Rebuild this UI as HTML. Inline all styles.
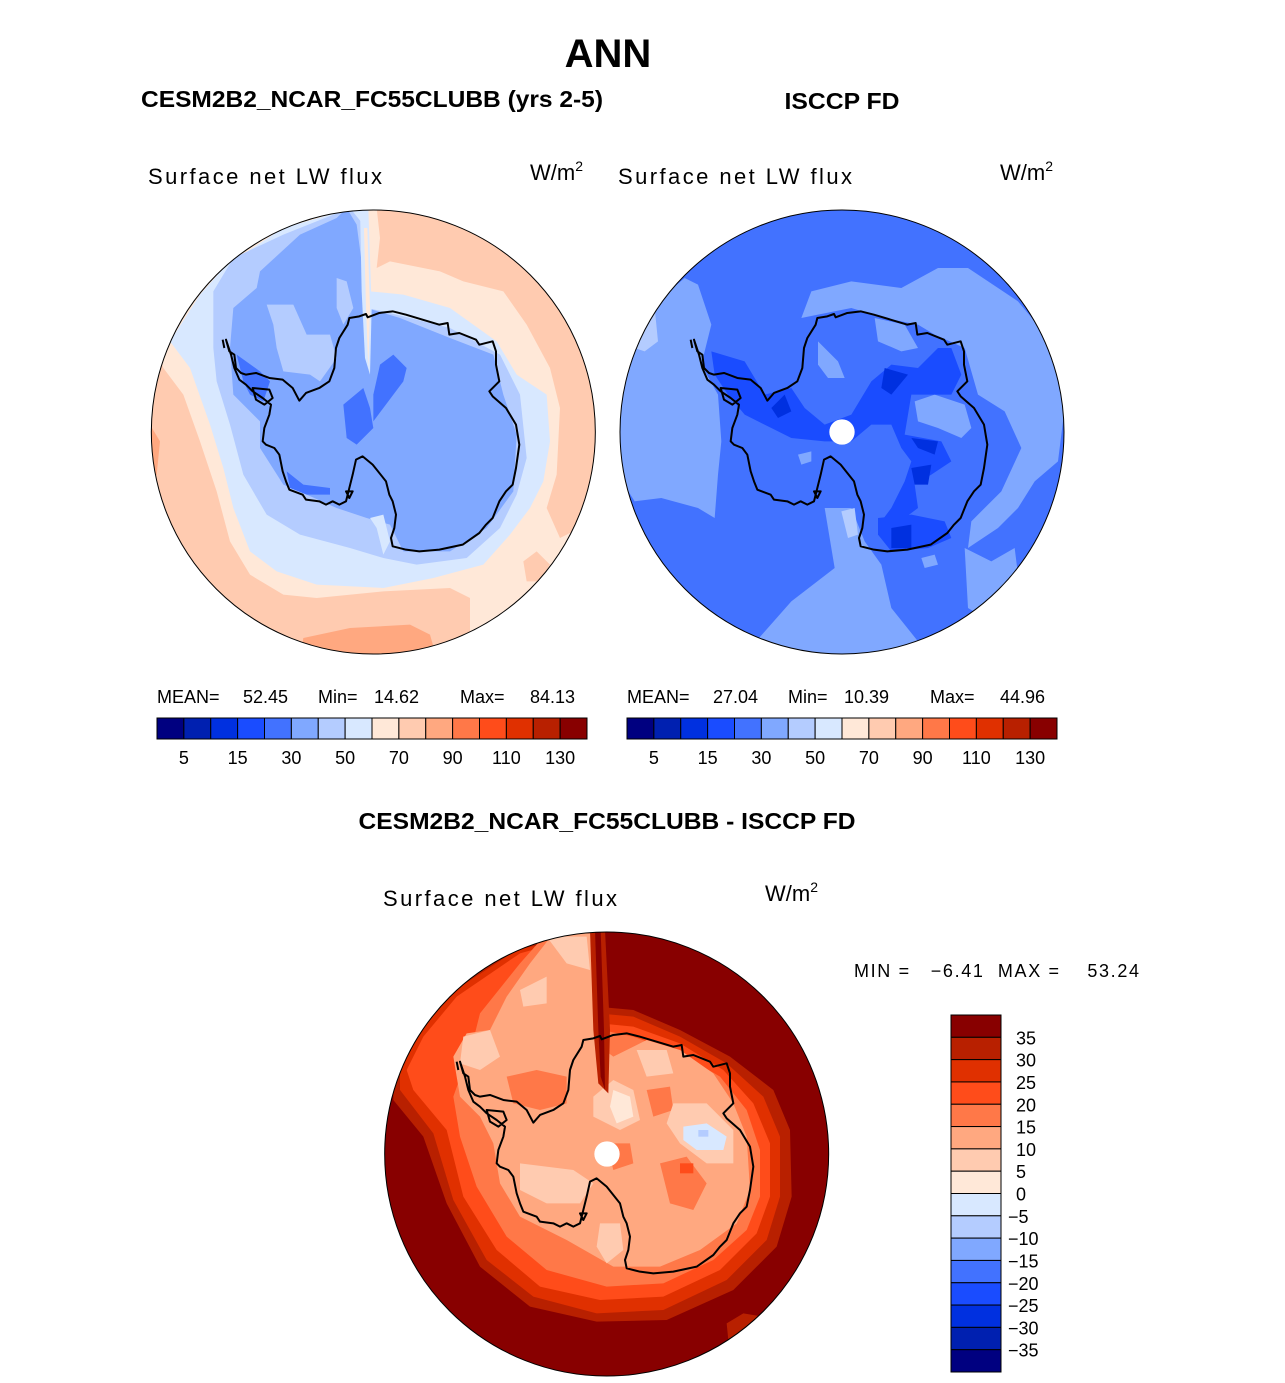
<!DOCTYPE html>
<html><head><meta charset="utf-8"><style>
html,body{margin:0;padding:0;background:#fff;}
svg{display:block;font-family:"Liberation Sans",sans-serif;}
</style></head><body>
<svg id="fig" width="1285" height="1383" viewBox="0 0 1285 1383" xmlns="http://www.w3.org/2000/svg">
<defs>
<clipPath id="c1"><circle cx="670" cy="672" r="666"/></clipPath>
<clipPath id="c2"><circle cx="672" cy="672" r="666"/></clipPath>
<clipPath id="c3"><circle cx="680" cy="672" r="666"/></clipPath>
</defs>
<text x="608" y="67" text-anchor="middle" font-size="40" font-weight="bold">ANN</text>
<text x="141" y="107" font-size="23" font-weight="bold" textLength="462" lengthAdjust="spacingAndGlyphs">CESM2B2_NCAR_FC55CLUBB (yrs 2-5)</text>
<text x="842" y="109" text-anchor="middle" font-size="23" font-weight="bold" textLength="115" lengthAdjust="spacingAndGlyphs">ISCCP FD</text>
<text x="148" y="184" font-size="22" textLength="234">Surface net LW flux</text>
<text x="530" y="180" font-size="22">W/m<tspan font-size="14" dy="-9">2</tspan></text>
<text x="618" y="184" font-size="22" textLength="234">Surface net LW flux</text>
<text x="1000" y="180" font-size="22">W/m<tspan font-size="14" dy="-9">2</tspan></text>
<text x="607" y="829" text-anchor="middle" font-size="23" font-weight="bold" textLength="497" lengthAdjust="spacingAndGlyphs">CESM2B2_NCAR_FC55CLUBB - ISCCP FD</text>
<text x="383" y="906" font-size="22" textLength="234">Surface net LW flux</text>
<text x="765" y="901" font-size="22">W/m<tspan font-size="14" dy="-9">2</tspan></text>
<text x="854" y="977" font-size="18" textLength="285" xml:space="preserve">MIN =   −6.41  MAX =    53.24</text>

<!-- plot 1 -->
<g transform="translate(150,208) scale(0.33333)">
<g clip-path="url(#c1)">
<rect x="0" y="0" width="1350" height="1350" fill="#ffcbb0"/>
<polygon fill="#ffa880" points="450,1350 460,1290 600,1260 780,1250 840,1280 860,1350"/>
<polygon fill="#ffa880" points="0,650 30,700 20,800 0,820"/>
<polygon fill="#ffe8d8" points="630,0 680,0 690,90 680,180 720,160 870,190 940,220 1060,250 1130,350 1200,480 1230,600 1220,800 1190,900 1230,990 1290,960 1330,900 1300,1100 1200,1230 1000,1320 960,1300 960,1170 900,1140 700,1150 500,1170 400,1160 300,1100 240,1000 200,850 150,700 100,560 40,480 20,420 60,380 150,250 300,100 500,20"/>
<polygon fill="#ffcbb0" points="1120,1060 1160,1030 1200,1070 1170,1120 1130,1120"/>
<polygon fill="#d8e8ff" points="610,0 650,0 660,250 760,260 900,300 1040,400 1100,500 1190,560 1200,700 1180,820 1140,900 1080,980 1000,1070 850,1110 700,1140 500,1130 380,1090 300,1030 250,900 220,780 180,650 120,480 60,400 150,260 230,170 400,60"/>
<polygon fill="#b4ccff" points="600,0 640,50 650,300 700,310 900,360 1050,440 1110,560 1130,750 1100,860 1050,960 950,1050 800,1070 700,1050 600,1020 450,980 350,920 280,800 240,650 200,520 190,420 190,250 250,150 400,80"/>
<polygon fill="#80a8ff" points="590,0 620,50 640,200 650,300 750,330 900,390 1030,440 1060,560 1100,680 1090,850 1010,960 900,1030 760,1030 720,950 650,930 560,900 470,860 400,830 330,720 330,640 250,560 240,420 250,300 320,240 330,190 450,80 560,30"/>
<polygon fill="#b4ccff" points="350,290 430,290 470,380 540,380 560,450 510,520 480,500 400,490 380,420 370,350"/>
<polygon fill="#b4ccff" points="560,210 590,220 610,300 580,350 560,300"/>
<polygon fill="#4272ff" points="580,590 640,540 660,600 670,660 620,710 590,690"/>
<polygon fill="#4272ff" points="690,470 730,440 770,480 760,520 700,600 670,640 670,560"/>
<polygon fill="#4272ff" points="410,790 460,830 540,840 540,860 470,860 420,840"/>
<polygon fill="#4272ff" points="260,440 330,490 360,520 340,580 300,560 280,520"/>
<polygon fill="#d8e8ff" points="630,0 655,0 665,300 660,500 645,450 635,250"/>
<polygon fill="#ffe8d8" points="642,60 652,60 660,300 655,480 648,300"/>
<polygon fill="#d8e8ff" points="660,930 700,920 720,1000 700,1040 680,960"/>
</g>
<use href="#continent" transform="translate(-12,0)"/>
<circle cx="670" cy="672" r="666" fill="none" stroke="#000" stroke-width="3"/>
</g>

<!-- plot 2 -->
<g transform="translate(618,208) scale(0.33333)">
<g clip-path="url(#c2)">
<rect x="0" y="0" width="1350" height="1350" fill="#4272ff"/>
<polygon fill="#80a8ff" points="0,400 60,330 200,210 240,230 280,350 250,470 300,560 310,700 300,800 290,930 240,900 130,870 50,880 0,800"/>
<polygon fill="#b4ccff" points="60,340 110,300 120,400 80,430 50,420"/>
<polygon fill="#80a8ff" points="370,1350 520,1180 650,1080 620,900 700,900 740,1000 790,1070 820,1200 900,1300 1000,1350"/>
<polygon fill="#b4ccff" points="670,910 710,900 720,980 690,990"/>
<polygon fill="#80a8ff" points="550,330 580,250 700,220 850,240 960,180 1050,180 1200,280 1300,400 1340,600 1320,760 1250,820 1200,900 1140,960 1050,1020 1060,940 1150,850 1210,720 1160,610 1080,560 1040,420 950,380 900,350 800,330 700,300 600,320"/>
<polygon fill="#80a8ff" points="1040,1020 1120,1060 1190,1020 1200,1100 1100,1230 1050,1200"/>
<polygon fill="#80a8ff" points="890,580 950,560 1040,590 1060,660 1030,690 960,660 900,640"/>
<polygon fill="#80a8ff" points="600,400 660,460 680,510 630,510 600,470"/>
<polygon fill="#80a8ff" points="770,330 860,350 900,420 850,430 780,400"/>
<polygon fill="#1a4cff" points="280,430 380,460 440,560 520,540 560,600 620,650 700,620 760,520 820,470 900,480 960,420 1000,420 1030,500 1000,560 880,560 860,680 970,700 1000,760 940,800 890,830 900,900 820,960 790,940 820,900 860,820 880,760 850,720 820,650 760,650 700,700 620,700 520,690 460,660 380,620 330,560 290,500"/>
<polygon fill="#1a4cff" points="780,930 880,920 980,940 1000,990 930,1020 820,1030 780,980"/>
<polygon fill="#0030e0" points="800,480 870,500 820,560 790,540"/>
<polygon fill="#0030e0" points="880,690 960,700 950,740 900,720"/>
<polygon fill="#0030e0" points="880,780 940,770 930,830 890,830"/>
<polygon fill="#0030e0" points="820,960 880,950 880,1020 820,1020"/>
<polygon fill="#0030e0" points="460,600 500,560 520,610 480,630"/>
<polygon fill="#80a8ff" points="540,740 580,730 580,760 550,770"/>
<polygon fill="#80a8ff" points="910,1050 950,1040 960,1070 920,1080"/>
</g>
<use href="#continent" transform="translate(-12,0)"/>
<circle cx="672" cy="672" r="666" fill="none" stroke="#000" stroke-width="3"/>
<circle cx="672" cy="672" r="38" fill="#fff"/>
</g>

<!-- plot 3 -->
<g transform="translate(380,930) scale(0.33333)">
<g clip-path="url(#c3)">
<rect x="0" y="0" width="1350" height="1350" fill="#880000"/>
<polygon fill="#b82000" points="620,10 650,230 760,240 900,300 1050,380 1180,480 1230,600 1235,800 1190,950 1060,1080 860,1170 650,1175 450,1130 300,1010 200,820 130,620 40,510 40,420 80,300 200,170 400,50"/>
<polygon fill="#e03000" points="630,10 655,250 760,260 900,320 1040,400 1150,500 1200,620 1200,800 1160,930 1040,1050 850,1140 650,1150 460,1100 320,990 220,810 160,610 60,480 60,420 100,320 210,190 410,60"/>
<polygon fill="#ff4c1a" points="635,10 660,280 760,290 900,340 1030,420 1120,520 1170,640 1170,800 1130,910 1020,1020 850,1100 660,1110 480,1070 350,960 250,800 200,600 100,480 80,420 130,320 230,200 420,70"/>
<polygon fill="#ff7848" points="640,10 665,300 760,320 900,370 1020,440 1100,540 1140,660 1140,800 1100,900 1000,990 850,1060 680,1070 500,1020 380,920 290,770 240,620 220,500 280,330 300,250 420,100 500,10"/>
<polygon fill="#ffa880" points="640,10 660,350 700,380 800,330 900,360 1000,430 1060,520 1100,620 1110,780 1070,880 960,960 840,1010 700,1010 560,930 420,860 360,760 340,640 300,560 240,500 220,380 260,310 330,300 380,200 450,100 520,10"/>
<polygon fill="#ff7848" points="380,440 470,420 560,440 560,520 480,540 400,520"/>
<polygon fill="#ff7848" points="800,480 870,470 880,540 820,560"/>
<polygon fill="#ff7848" points="680,640 750,640 760,700 700,720"/>
<polygon fill="#ff7848" points="840,700 920,680 980,760 940,840 870,820"/>
<polygon fill="#ff4c1a" points="900,700 940,700 940,730 900,730"/>
<polygon fill="#ffcbb0" points="420,180 500,140 500,220 430,230"/>
<polygon fill="#ffcbb0" points="500,20 620,20 630,120 560,100"/>
<polygon fill="#ffcbb0" points="250,320 330,300 360,380 300,420 240,400"/>
<polygon fill="#ffcbb0" points="700,450 760,480 780,570 720,600 640,560 640,500"/>
<polygon fill="#ffcbb0" points="770,360 860,360 880,430 800,440"/>
<polygon fill="#ffcbb0" points="880,520 980,520 1060,600 1060,700 980,700 900,640 860,580"/>
<polygon fill="#ffcbb0" points="420,700 580,720 640,760 600,820 500,820 420,780"/>
<polygon fill="#ffcbb0" points="660,880 720,880 730,960 680,1000 650,950"/>
<polygon fill="#ffe8d8" points="700,480 750,500 760,560 710,580 690,530"/>
<polygon fill="#d8e8ff" points="910,590 980,580 1040,620 1030,660 950,660 910,630"/>
<polygon fill="#b4ccff" points="955,600 985,600 985,620 955,620"/>
<polygon fill="#b82000" points="630,0 675,0 690,300 685,490 655,460 640,300"/>
<polygon fill="#880000" points="645,0 662,0 672,300 675,480 662,440 655,300"/>
<polygon fill="#b82000" points="1040,1180 1090,1150 1150,1160 1100,1230 1045,1230"/>
</g>
<use href="#continent" transform="translate(0,0)"/>
<circle cx="680" cy="672" r="666" fill="none" stroke="#000" stroke-width="3"/>
<circle cx="681" cy="672" r="38" fill="#fff"/>
</g>

<defs>
<path id="continent" fill="none" stroke="#000" stroke-width="6" stroke-linejoin="round" d="M240,395 L250,430 L265,440 L270,480 L285,495 L300,500 L330,495 L370,510 L410,515 L440,540 L460,578 L480,555 L520,540 L550,520 L565,480 L570,420 L580,390 L605,350 L610,330 L640,325 L660,318 L665,328 L700,315 L740,310 L780,320 L830,335 L880,350 L905,345 L910,380 L940,375 L990,395 L1000,410 L1040,400 L1050,430 L1050,470 L1060,520 L1030,550 L1040,565 L1080,600 L1110,650 L1120,710 L1110,780 L1100,830 L1080,850 L1060,880 L1040,930 L1020,950 L1000,975 L950,1010 L880,1025 L820,1030 L780,1025 L740,1015 L735,990 L745,960 L750,920 L740,880 L730,860 L720,820 L680,770 L650,745 L630,755 L620,800 L610,840 L600,880 L580,890 L560,880 L540,890 L520,880 L480,875 L470,860 L430,845 L420,820 L410,790 L400,740 L385,720 L360,710 L350,700 L355,660 L370,620 L375,590 L350,570 L320,550 L300,530 L280,515 L265,480 L255,440 Z M320,540 L370,545 L380,570 L355,590 L330,575 Z M230,395 L235,420 M600,850 L610,870 L620,850 Z"/>
</defs>

<g id="cbars"></g>
</svg>
<script>
var barColors = ["#000080","#0020b0","#0030e0","#1a4cff","#4272ff","#80a8ff","#b4ccff","#d8e8ff","#ffe8d8","#ffcbb0","#ffa880","#ff7848","#ff4c1a","#e03000","#b82000","#880000"];
var topTickLabels = ["5","15","30","50","70","90","110","130"];
var topTickIndex = [1,3,5,7,9,11,13,15];
var diffLevels = ["35","30","25","20","15","10","5","0","\u22125","\u221210","\u221215","\u221220","\u221225","\u221230","\u221235"];
var modelStats = ["52.45","14.62","84.13"];
var obsStats = ["27.04","10.39","44.96"];

var NS = "http://www.w3.org/2000/svg";
var cb = document.getElementById("cbars");
function mk(tag, attrs, parent) {
  var e = document.createElementNS(NS, tag);
  for (var k in attrs) e.setAttribute(k, attrs[k]);
  (parent || cb).appendChild(e);
  return e;
}
function hbar(x0, name, stats) {
  var w = 430, y = 718, h = 21, n = barColors.length, bw = w / n;
  var g = mk("g", {});
  
  
  for (var i = 0; i < n; i++) {
    var r = mk("rect", {x: x0 + i * bw, y: y, width: bw, height: h, fill: barColors[i], stroke: "#000", "stroke-width": 1}, g);
    
    
  }
  for (var j = 0; j < topTickLabels.length; j++) {
    var t = mk("text", {x: x0 + topTickIndex[j] * bw, y: 764, "text-anchor": "middle", "font-size": 18}, g);
    t.textContent = topTickLabels[j];
    
    
  }
  var labels = [["MEAN=", 0], [stats[0], 86], ["Min=", 161], [stats[1], 217], ["Max=", 303], [stats[2], 373]];
  for (var k = 0; k < labels.length; k++) {
    var s = mk("text", {x: x0 + labels[k][1], y: 703, "font-size": 18}, g);
    s.textContent = labels[k][0];
    
    
  }
}
hbar(157, "model", modelStats);
hbar(627, "obs", obsStats);

(function () {
  var x = 951, y0 = 1015, h = 357, n = barColors.length, bh = h / n;
  var g = mk("g", {});
  
  
  for (var i = 0; i < n; i++) {
    var r = mk("rect", {x: x, y: y0 + i * bh, width: 50, height: bh, fill: barColors[n - 1 - i], stroke: "#000", "stroke-width": 1}, g);
    
    
  }
  for (var j = 0; j < diffLevels.length; j++) {
    var neg = diffLevels[j].charAt(0) === "\u2212";
    var t = mk("text", {x: neg ? 1008 : 1016, y: y0 + (j + 1) * bh + 7, "font-size": 18}, g);
    t.textContent = diffLevels[j];
    
    
  }
})();
</script>
</body></html>
